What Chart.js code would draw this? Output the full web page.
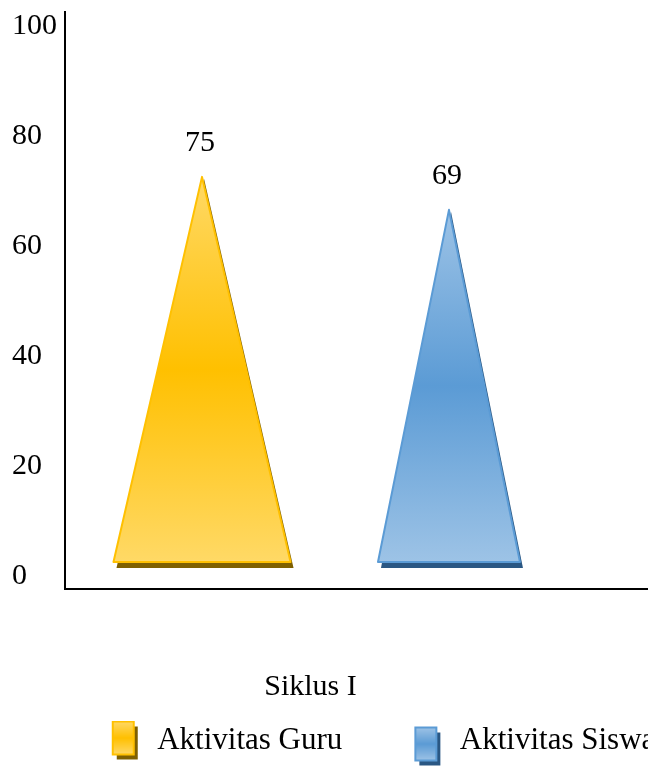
<!DOCTYPE html>
<html>
<head>
<meta charset="utf-8">
<script src="https://cdn.jsdelivr.net/npm/chart.js@4/dist/chart.umd.min.js"></script>
<style>
  html, body { margin: 0; padding: 0; overflow: hidden; background: #fff; }
  canvas { display: block; }
</style>
</head>
<body>
<canvas id="chart" width="701" height="766"></canvas>
<script>
// Categories, series and axis ticks
const categories = ['Siklus I'];
const seriesNames = ['Aktivitas Guru', 'Aktivitas Siswa'];
const guruValues = [75];
const siswaValues = [69];
const yTicks = [0, 20, 40, 60, 80, 100];

// Pyramid colour sets (light tip/foot, saturated middle, dark drop shadow)
const goldSet = { light: '#FFD966', mid: '#FFC000', edge: '#FFC000', dark: '#7F6000' };
const blueSet = { light: '#9DC3E6', mid: '#5B9BD5', edge: '#5B9BD5', dark: '#2A5783' };

const FONT = "'Liberation Serif', 'Times New Roman', serif";
const MARKER_W = 84;

// Small 3D box used as the legend marker; dy lowers the box inside its frame
function makeIcon(set, dy) {
  const c = document.createElement('canvas');
  c.width = MARKER_W;
  c.height = 40 + 2 * dy;
  const g = c.getContext('2d');
  const x0 = MARKER_W - 29, y0 = 1 + 2 * dy;
  g.fillStyle = set.dark;
  g.fillRect(x0 + 4, y0 + 5, 21, 33);
  const grad = g.createLinearGradient(0, y0, 0, y0 + 33);
  grad.addColorStop(0, set.light);
  grad.addColorStop(0.5, set.mid);
  grad.addColorStop(1, set.light);
  g.fillStyle = grad;
  g.fillRect(x0, y0, 21, 33);
  g.lineWidth = 2;
  g.strokeStyle = set.edge;
  g.strokeRect(x0, y0, 21, 33);
  return c;
}
const icons = [makeIcon(goldSet, 0), makeIcon(blueSet, 6)];

// Draws each bar element as a shaded pyramid plus its value label
const pyramidPlugin = {
  id: 'pyramids',
  afterDatasetsDraw(chart) {
    const ctx = chart.ctx;
    chart.data.datasets.forEach((ds, di) => {
      const meta = chart.getDatasetMeta(di);
      if (meta.hidden) return;
      const set = ds.pyramid;
      meta.data.forEach((bar, i) => {
        const p = bar.getProps(['x', 'y', 'base', 'width'], true);
        const floor = p.base - 27;
        const half = p.width / 2;
        ctx.save();
        // drop shadow
        ctx.fillStyle = set.dark;
        ctx.beginPath();
        ctx.moveTo(p.x + 2, p.y + 2);
        ctx.lineTo(p.x + half + 3, floor + 6);
        ctx.lineTo(p.x - half + 3, floor + 6);
        ctx.closePath();
        ctx.fill();
        // body
        const grad = ctx.createLinearGradient(0, p.y, 0, floor);
        grad.addColorStop(0, set.light);
        grad.addColorStop(0.5, set.mid);
        grad.addColorStop(1, set.light);
        ctx.fillStyle = grad;
        ctx.beginPath();
        ctx.moveTo(p.x, p.y);
        ctx.lineTo(p.x + half, floor);
        ctx.lineTo(p.x - half, floor);
        ctx.closePath();
        ctx.fill();
        ctx.lineWidth = 2;
        ctx.lineJoin = 'round';
        ctx.strokeStyle = set.edge;
        ctx.stroke();
        // value label
        ctx.fillStyle = '#000';
        ctx.font = '30px ' + FONT;
        ctx.textAlign = 'center';
        ctx.textBaseline = 'middle';
        ctx.fillText(String(ds.data[i]), p.x - 2, p.y - 34);
        ctx.restore();
      });
    });
  }
};

// Continues the horizontal axis line to the right edge
const axisExtension = {
  id: 'axisExtension',
  afterDraw(chart) {
    const { ctx, chartArea } = chart;
    const y = chart.scales.x.top;
    ctx.save();
    ctx.strokeStyle = '#000';
    ctx.lineWidth = 2;
    ctx.beginPath();
    ctx.moveTo(chartArea.right - 1, y);
    ctx.lineTo(chart.width, y);
    ctx.stroke();
    ctx.restore();
  }
};

new Chart(document.getElementById('chart'), {
  type: 'bar',
  data: {
    labels: categories,
    datasets: [
      {
        label: seriesNames[0],
        data: guruValues,
        pyramid: goldSet,
        backgroundColor: 'rgba(0,0,0,0)',
        borderWidth: 0,
        barPercentage: 0.717,
        categoryPercentage: 0.948
      },
      {
        label: seriesNames[1],
        data: siswaValues,
        pyramid: blueSet,
        backgroundColor: 'rgba(0,0,0,0)',
        borderWidth: 0,
        barPercentage: 0.575,
        categoryPercentage: 0.948
      }
    ]
  },
  options: {
    responsive: false,
    animation: false,
    devicePixelRatio: 1,
    layout: { padding: { left: 12, top: 12, right: 0, bottom: 0 } },
    plugins: {
      tooltip: { enabled: false },
      legend: {
        position: 'bottom',
        align: 'center',
        labels: {
          usePointStyle: true,
          pointStyleWidth: MARKER_W,
          padding: 18,
          color: '#000',
          font: { family: FONT, size: 31 },
          generateLabels(chart) {
            return chart.data.datasets.map((ds, i) => ({
              text: ds.label,
              pointStyle: icons[i],
              fillStyle: ds.pyramid.mid,
              strokeStyle: ds.pyramid.edge,
              lineWidth: 0,
              fontColor: '#000',
              hidden: !chart.isDatasetVisible(i),
              datasetIndex: i
            }));
          }
        }
      }
    },
    scales: {
      x: {
        grid: { display: false, drawTicks: false },
        border: { display: true, color: '#000', width: 2 },
        ticks: {
          padding: 80,
          labelOffset: -15,
          color: '#000',
          font: { family: FONT, size: 30 }
        },
        afterFit(s) { s.height = 118; s.paddingLeft = 0; s.paddingRight = 0; }
      },
      y: {
        min: 0,
        max: 105,
        grid: { display: false, drawTicks: false },
        border: { display: true, color: '#000', width: 2 },
        ticks: {
          crossAlign: 'far',
          padding: 8,
          labelOffset: -13,
          color: '#000',
          font: { family: FONT, size: 30 }
        },
        afterBuildTicks(s) { s.ticks = yTicks.map(v => ({ value: v })); },
        afterFit(s) { s.width = 53; s.paddingTop = 0; s.paddingBottom = 0; }
      },
      yRight: {
        type: 'linear',
        position: 'right',
        grid: { display: false, drawTicks: false },
        border: { display: false },
        ticks: { display: false },
        afterFit(s) { s.width = 115; s.paddingTop = 0; s.paddingBottom = 0; }
      }
    }
  },
  plugins: [pyramidPlugin, axisExtension]
});
</script>
</body>
</html>
